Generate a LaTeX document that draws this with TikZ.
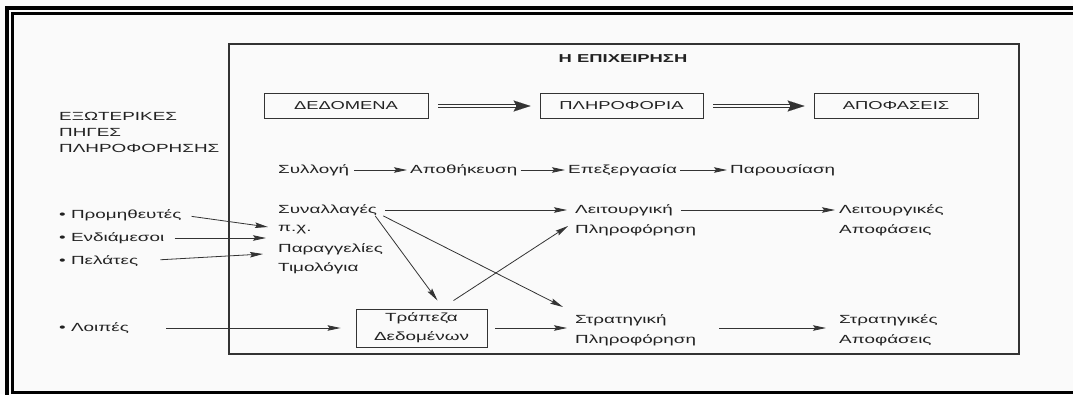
\documentclass[tikz,border=0pt]{standalone}
\usepackage{fontspec}
\setmainfont{Liberation Sans}[FakeStretch=1.6]
\usetikzlibrary{arrows.meta,calc}
\definecolor{ink}{HTML}{222222}
\definecolor{edge}{HTML}{333333}
\definecolor{paper}{HTML}{FAFAFA}
\begin{document}
\begin{tikzpicture}[x=1pt,y=-1pt,
  lbl/.style={inner sep=0pt, text=ink, font=\fontsize{11.8}{16}\selectfont, anchor=west, align=left},
  capbox/.style={draw=edge, line width=0.9pt, minimum width=164pt, minimum height=25pt, inner sep=0pt, text=ink, font=\fontsize{11.5}{14}\selectfont},
  bankbox/.style={draw=edge, line width=0.9pt, minimum width=131pt, minimum height=38pt, inner sep=0pt, align=center, text=ink, font=\fontsize{11.8}{19}\selectfont},
  conn/.style={draw=edge, line width=0.8pt, -{Stealth[length=13pt,width=5.5pt,inset=2pt]}},
  bigarrow/.style={draw=edge, line width=4.2pt, shorten <=10pt, shorten >=9pt,
     -{Stealth[length=17pt,width=11pt,inset=3pt,line width=0.1pt]},
     postaction={draw=paper, line width=1.6pt, -, shorten <=9pt, shorten >=24pt}}
]
\useasboundingbox (0,0) rectangle (1073,394);
\clip (0,0) rectangle (1073,394);
\fill[paper] (0,0) rectangle (1073,394);
% outer double frame
\draw[line width=4pt] (7,8) rectangle (1090,410);
\draw[line width=3pt] (12.5,13.5) rectangle (1085,392.5);
% the firm
\draw[draw=edge, line width=1.2pt] (229,44) rectangle (1019,354);
\node[lbl, anchor=center, font=\bfseries\fontsize{11.5}{14}\selectfont] (title) at (623,59) {Η ΕΠΙΧΕΙΡΗΣΗ};

\node[capbox] (data) at (346,106) {ΔΕΔΟΜΕΝΑ};
\node[capbox, minimum width=163pt] (info) at (621.5,106) {ΠΛΗΡΟΦΟΡΙΑ};
\node[capbox] (dec) at (896,106) {ΑΠΟΦΑΣΕΙΣ};
\draw[bigarrow] (data) -- (info);
\draw[bigarrow] (info) -- (dec);

\node[lbl] (ext) at (59,132) {ΕΞΩΤΕΡΙΚΕΣ\\ΠΗΓΕΣ\\ΠΛΗΡΟΦΟΡΗΣΗΣ};

% processing row
\node[lbl] (col) at (278,170) {Συλλογή};
\node[lbl] (sto) at (410,170) {Αποθήκευση};
\node[lbl] (pro) at (568,170) {Επεξεργασία};
\node[lbl] (pre) at (730,170) {Παρουσίαση};
\draw[conn, shorten <=5pt, shorten >=3pt] (col) -- (sto);
\draw[conn, shorten <=3pt, shorten >=3pt] (sto) -- (pro);
\draw[conn, shorten <=3pt, shorten >=3pt] (pro) -- (pre);

% transactions
\node[lbl] (syn) at (278,210) {Συναλλαγές};
\node[lbl] (px) at (278,230) {π.χ.};
\node[lbl] (ord) at (278,249) {Παραγγελίες};
\node[lbl] (inv) at (278,268) {Τιμολόγια};

% external sources
\node[lbl] (sup) at (59,215) {• Προμηθευτές};
\node[lbl] (mid) at (59,238) {• Ενδιάμεσοι};
\node[lbl] (cus) at (59,261) {• Πελάτες};
\node[lbl] (oth) at (59,328) {• Λοιπές};
\draw[conn, shorten <=10pt] (sup.east) -- ([xshift=-10pt,yshift=3pt]px.west);
\draw[conn, shorten <=10pt, shorten >=12pt] (mid.east) -- (mid.east -| px.west);
\draw[conn, shorten <=22pt] (cus.east) -- ([xshift=-15pt,yshift=-5pt]ord.west);

% data bank
\node[bankbox] (bank) at (421.5,328) {Τράπεζα\\Δεδομένων};
\draw[conn, shorten <=37pt, shorten >=15pt] (oth.east) -- (oth.east -| bank.west);

% information and decisions
\node[lbl] (opA) at (575,210) {Λειτουργική};
\node[lbl] (opB) at (575,230) {Πληροφόρηση};
\node[lbl] (stA) at (575,320) {Στρατηγική};
\node[lbl] (stB) at (575,340) {Πληροφόρηση};
\node[lbl] (odA) at (839,210) {Λειτουργικές};
\node[lbl] (odB) at (839,230) {Αποφάσεις};
\node[lbl] (sdA) at (839,320) {Στρατηγικές};
\node[lbl] (sdB) at (839,340) {Αποφάσεις};

\draw[conn, shorten <=8pt, shorten >=8pt] (syn.east) -- (opA.west);
\draw[conn, shorten <=8pt, shorten >=4pt] (opA.east) -- (odA.west);
\draw[conn] ([xshift=-2pt]syn.south east) -- ([xshift=16pt,yshift=8pt]bank.north);
\draw[conn] ([xshift=6pt]syn.south east) -- ([xshift=-12pt,yshift=13pt]stA.west);
\draw[conn] ([xshift=32pt,yshift=8pt]bank.north) -- ([xshift=-7pt,yshift=4pt]opB.west);
\draw[conn, shorten <=8pt, shorten >=8pt] (bank.east) -- (bank.east -| stA.west);
\draw[conn, shorten <=23pt, shorten >=13pt] (stB.east |- bank.east) -- (sdA.west |- bank.east);
\end{tikzpicture}
\end{document}
